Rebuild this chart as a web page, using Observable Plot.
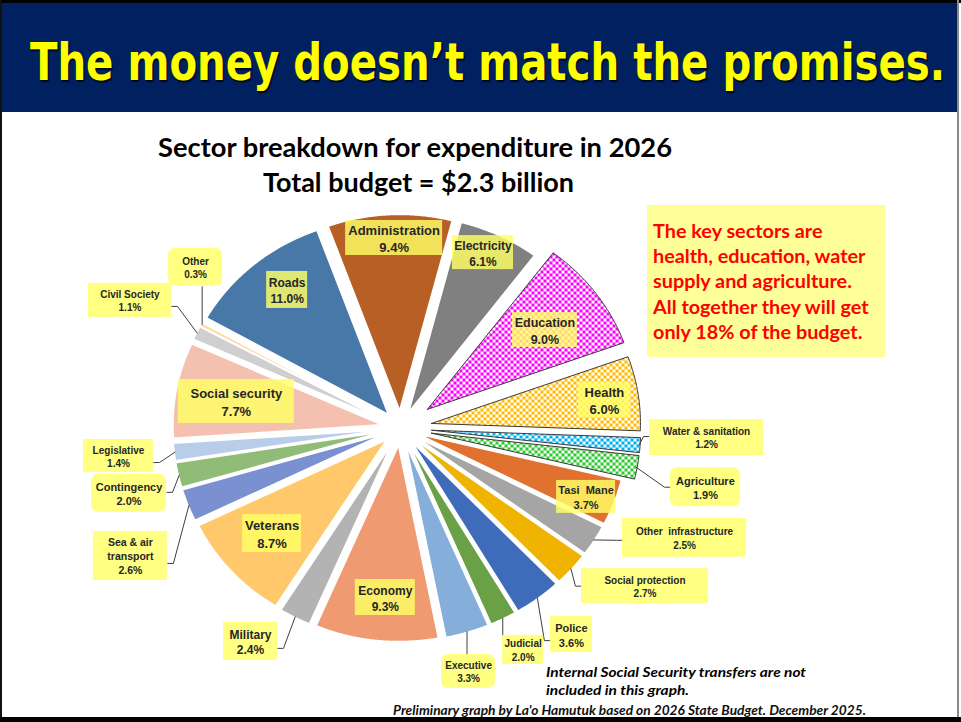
<!DOCTYPE html>
<html><head><meta charset="utf-8">
<script src="https://cdn.jsdelivr.net/npm/d3@7"></script>
<script src="https://cdn.jsdelivr.net/npm/@observablehq/plot@0.6"></script>
<style>
html,body{margin:0;padding:0;background:#fff;}
#page{position:relative;width:961px;height:722px;overflow:hidden;background:#fff;}
.abs{position:absolute;white-space:nowrap;z-index:3;}
.bar{position:absolute;z-index:4;}
#chart{position:absolute;left:0;top:0;z-index:2;}
</style></head><body>
<svg width="0" height="0" style="position:absolute">
 <defs>
  <pattern id="pEdu" width="6" height="6" patternUnits="userSpaceOnUse"><rect width="6" height="6" fill="#fff"/><rect width="3" height="3" fill="#FF00FF"/><rect x="3" y="3" width="3" height="3" fill="#FF00FF"/></pattern>
  <pattern id="pHea" width="6" height="6" patternUnits="userSpaceOnUse"><rect width="6" height="6" fill="#fff"/><rect width="3" height="3" fill="#FFBA00"/><rect x="3" y="3" width="3" height="3" fill="#FFBA00"/></pattern>
  <pattern id="pWat" width="6" height="6" patternUnits="userSpaceOnUse"><rect width="6" height="6" fill="#fff"/><rect width="3" height="3" fill="#00B0F0"/><rect x="3" y="3" width="3" height="3" fill="#00B0F0"/></pattern>
  <pattern id="pAgr" width="6" height="6" patternUnits="userSpaceOnUse"><rect width="6" height="6" fill="#fff"/><rect width="3" height="3" fill="#2DC82D"/><rect x="3" y="3" width="3" height="3" fill="#2DC82D"/></pattern>
 </defs>
</svg>
<div id="page">
  <div class="bar" style="left:0;top:0;width:961px;height:3px;background:#000"></div>
  <div class="bar" style="left:0;top:0;width:2px;height:722px;background:#111"></div>
  <div class="bar" style="left:957px;top:0;width:2px;height:722px;background:#8a8a8a"></div>
  <div class="bar" style="left:0;top:717px;width:961px;height:5px;background:#000"></div>
  <div style="position:absolute;left:2px;top:3px;width:955px;height:109px;background:#002060;z-index:1"></div>
  <div style="position:absolute;left:647px;top:205px;width:238px;height:152px;background:#FFFF99;z-index:1"></div>
  <div id="chart"></div>
</div>
<script>
// ---------- data ----------
const sectors = ["Administration","Electricity","Education","Health","Water & sanitation","Agriculture","Tasi Mane","Other infrastructure","Social protection","Police","Judicial","Executive","Economy","Military","Veterans","Sea & air transport","Contingency","Legislative","Social security","Civil Society","Other","Roads"];
const shares = [9.4,6.1,9.0,6.0,1.2,1.9,3.7,2.5,2.7,3.6,2.0,3.3,9.3,2.4,8.7,2.6,2.0,1.4,7.7,1.1,0.3,11.0];
const labelNames = ["Administration","Electricity","Education","Health","Water & sanitation","Agriculture","Tasi  Mane","Other  infrastructure","Social protection","Police","Judicial","Executive","Economy","Military","Veterans","Sea & air\ntransport","Contingency","Legislative","Social security","Civil Society","Other","Roads"];

// ---------- styles ----------
const fills = ["#B85F26","#808080","url(#pEdu)","url(#pHea)","url(#pWat)","url(#pAgr)","#E0712F","#A5A5A5","#EFB300","#3E6BBA","#6AA146","#86AEDB","#EF9A70","#B3B3B3","#FFC96B","#7A90D0","#91BC78","#B7CDE8","#F4C1B0","#CFCFCF","#FFD9A6","#4878A8"];
const patterned = [false,false,true,true,true,true,false,false,false,false,false,false,false,false,false,false,false,false,false,false,false,false];
const explode = [0.09,0.09,0.16,0.15,0.15,0.15,0.09,0.09,0.09,0.09,0.09,0.09,0.09,0.09,0.09,0.09,0.09,0.09,0.09,0.09,0.09,0.09];

// ---------- layout ----------
const W = 961, H = 722, CX = 400, CY = 427.5, RX = 209, RY = 196;
const labelLayout = [
 {t:-1.8, r:0.970, w:97, h:35, fs:13},
 {t:23.8, r:0.978, w:61, h:34, fs:12},
 {t:54.1, r:0.853, w:65, h:35, fs:12.5},
 {t:81.7, r:0.986, w:52, h:35, fs:13},
 {t:91.9, r:1.465, w:114, h:36, fs:10, lead:"h", dy:-1},
 {t:101.7, r:1.490, w:70, h:39, fs:11, round:true, lead:"h", dy:0},
 {t:111.6, r:0.955, w:59, h:33, fs:11},
 {t:112.4, r:1.470, w:124, h:39, fs:10, lead:"h", dy:2.5},
 {t:124.6, r:1.421, w:127, h:35, fs:10, lead:"h", dy:0},
 {t:142.2, r:1.334, w:42, h:36, fs:11, lead:"h", dy:6},
 {t:152.6, r:1.275, w:41, h:29, fs:10, lead:"v"},
 {t:165.3, r:1.284, w:54, h:34, fs:10, round:true, lead:"v"},
 {t:184.8, r:0.868, w:60, h:36, fs:12},
 {t:213.4, r:1.304, w:54, h:38, fs:12, lead:"h", dy:7},
 {t:228.8, r:0.817, w:59, h:38, fs:13},
 {t:243.2, r:1.448, w:74, h:49, fs:10.5, lead:"h", dy:7.5},
 {t:255.6, r:1.341, w:75, h:38, fs:11, round:true, lead:"h", dy:-1},
 {t:263.95, r:1.357, w:70, h:33, fs:10, lead:"h", dy:6.5},
 {t:279.8, r:0.797, w:116, h:44, fs:13},
 {t:296.7, r:1.449, w:83, h:34, fs:10, lead:"h", dy:6},
 {t:309.9, r:1.278, w:54, h:38, fs:10, round:true, lead:"v"},
 {t:322.4, r:0.889, w:41, h:37, fs:12}
];

const rad = Math.PI/180;
const arcs = d3.pie().sort(null).value(d => d).startAngle(-20*rad).endAngle(340*rad)(shares);

// slice polygons (unit-circle coordinates, y down)
const sliceMarks = arcs.map((a, i) => {
  const m = (a.startAngle + a.endAngle)/2, o = explode[i];
  const ox = o*Math.sin(m), oy = -o*Math.cos(m);
  const pts = [[ox, oy]];
  const n = Math.max(3, Math.ceil((a.endAngle - a.startAngle)/(0.4*rad)));
  for (let k = 0; k <= n; k++) {
    const t = a.startAngle + (a.endAngle - a.startAngle)*k/n;
    pts.push([ox + Math.sin(t), oy - Math.cos(t)]);
  }
  pts.push([ox, oy]);
  return Plot.line(pts, {x: d => d[0], y: d => d[1], fill: fills[i],
    stroke: patterned[i] ? "#3a3a3a" : "#ffffff", strokeWidth: patterned[i] ? 1 : 1.5, strokeLinejoin: "miter"});
});

// labels
const rows = arcs.map((a, i) => {
  const L = labelLayout[i];
  const u = L.r*Math.sin(L.t*rad), v = -L.r*Math.cos(L.t*rad);
  return {i, u, v, hw: L.w/2/RX, hh: L.h/2/RY, fs: L.fs, round: !!L.round,
    text: labelNames[i] + "\n" + shares[i].toFixed(1) + "%"};
});

// leader lines
const leaders = [];
arcs.forEach((a, i) => {
  const L = labelLayout[i];
  if (!L.lead) return;
  const m = (a.startAngle + a.endAngle)/2, rr = 1 + explode[i] - 0.005;
  const ex = CX + RX*rr*Math.sin(m), ey = CY - RY*rr*Math.cos(m);
  const bx = CX + RX*rows[i].u, by = CY + RY*rows[i].v;
  let pts;
  if (L.lead === "v") {
    const sy = by > ey ? by - L.h/2 : by + L.h/2;
    pts = [[ex, sy], [ex, ey]];
  } else {
    const side = bx < ex ? 1 : -1;
    const ax = bx + side*L.w/2, ay = by + (L.dy || 0);
    pts = [[ax, ay], [ax + side*6, ay], [ex, ey]];
  }
  pts.forEach(p => leaders.push({id: i, u: (p[0]-CX)/RX, v: (p[1]-CY)/RY}));
});

const plot = Plot.plot({
  width: W, height: H, margin: 0,
  x: {domain: [-CX/RX, (W-CX)/RX], range: [0, W], axis: null},
  y: {domain: [-CY/RY, (H-CY)/RY], range: [0, H], axis: null},
  style: {background: "transparent", overflow: "visible"},
  marks: [
    ...sliceMarks,
    Plot.line(leaders, {x: "u", y: "v", z: "id", stroke: "#404040", strokeWidth: 1, strokeLinejoin: "miter", strokeLinecap: "butt"}),
    Plot.rect(rows.filter(d => !d.round), {x1: d => d.u - d.hw, x2: d => d.u + d.hw, y1: d => d.v - d.hh, y2: d => d.v + d.hh, fill: "#FFFF66", fillOpacity: 0.82}),
    Plot.rect(rows.filter(d => d.round), {x1: d => d.u - d.hw, x2: d => d.u + d.hw, y1: d => d.v - d.hh, y2: d => d.v + d.hh, fill: "#FFFF66", fillOpacity: 0.82, rx: 7}),
    Plot.text(rows, {x: "u", y: "v", text: "text", fontSize: d => d.fs, fontFamily: "Liberation Sans, Arial, sans-serif", fontWeight: "bold", fill: "#262626", lineHeight: 1.33})
  ]
});
document.getElementById("chart").append(plot);

// ---------- text overlays ----------
const page = document.getElementById("page");
function placeText(txt, o) {
  const d = document.createElement("div");
  d.className = "abs";
  d.style.left = o.x + "px";
  d.style.top = "0px";
  d.style.font = o.font;
  d.style.color = o.color || "#000";
  d.style.lineHeight = "1.2";
  if (o.shadow) d.style.textShadow = o.shadow;
  const s = document.createElement("span"); s.textContent = txt;
  const mk = document.createElement("span");
  mk.style.cssText = "display:inline-block;width:0;height:0;vertical-align:baseline";
  d.append(s, mk);
  page.append(d);
  d.style.top = (o.baseline - mk.offsetTop) + "px";
  if (o.width) {
    const w = s.getBoundingClientRect().width;
    d.style.transformOrigin = "0 0";
    d.style.transform = `scaleX(${o.width / w})`;
  }
}
placeText("The money doesn\u2019t match the promises.", {x: 30, baseline: 80, width: 915, font: "bold 52px 'DejaVu Sans', sans-serif", color: "#FFFF00", shadow: "1.5px 1.5px 1px rgba(0,0,0,0.75)"});
placeText("Sector breakdown for expenditure in 2026", {x: 158, baseline: 157, width: 514, font: "bold 26px Lato, 'Open Sans', sans-serif", color: "#000"});
placeText("Total budget = $2.3 billion", {x: 263, baseline: 192, width: 311, font: "bold 26px Lato, 'Open Sans', sans-serif", color: "#000"});

const noteLines = ["The key sectors are", "health, education, water", "supply and agriculture.", "All together they will get", "only 18% of the budget."];
// size the note font so the longest line matches the box
const cnv = document.createElement("canvas").getContext("2d");
cnv.font = "bold 16px Lato";
const noteSize = 16 * 217 / cnv.measureText(noteLines[3]).width;
noteLines.forEach((t, k) => placeText(t, {x: 653, baseline: 238 + k*25.2, font: `bold ${noteSize}px Lato, sans-serif`, color: "#FF0000"}));

placeText("Internal Social Security transfers are not", {x: 546, baseline: 677, width: 260, font: "italic bold 13px Lato, sans-serif", color: "#000"});
placeText("included in this graph.", {x: 546, baseline: 695, width: 143, font: "italic bold 13px Lato, sans-serif", color: "#000"});
placeText("Preliminary graph by La'o Hamutuk based on 2026 State Budget. December 2025.", {x: 393, baseline: 715, width: 473, font: "italic bold 12.5px Lato, sans-serif", color: "#111"});
</script>
</body></html>
